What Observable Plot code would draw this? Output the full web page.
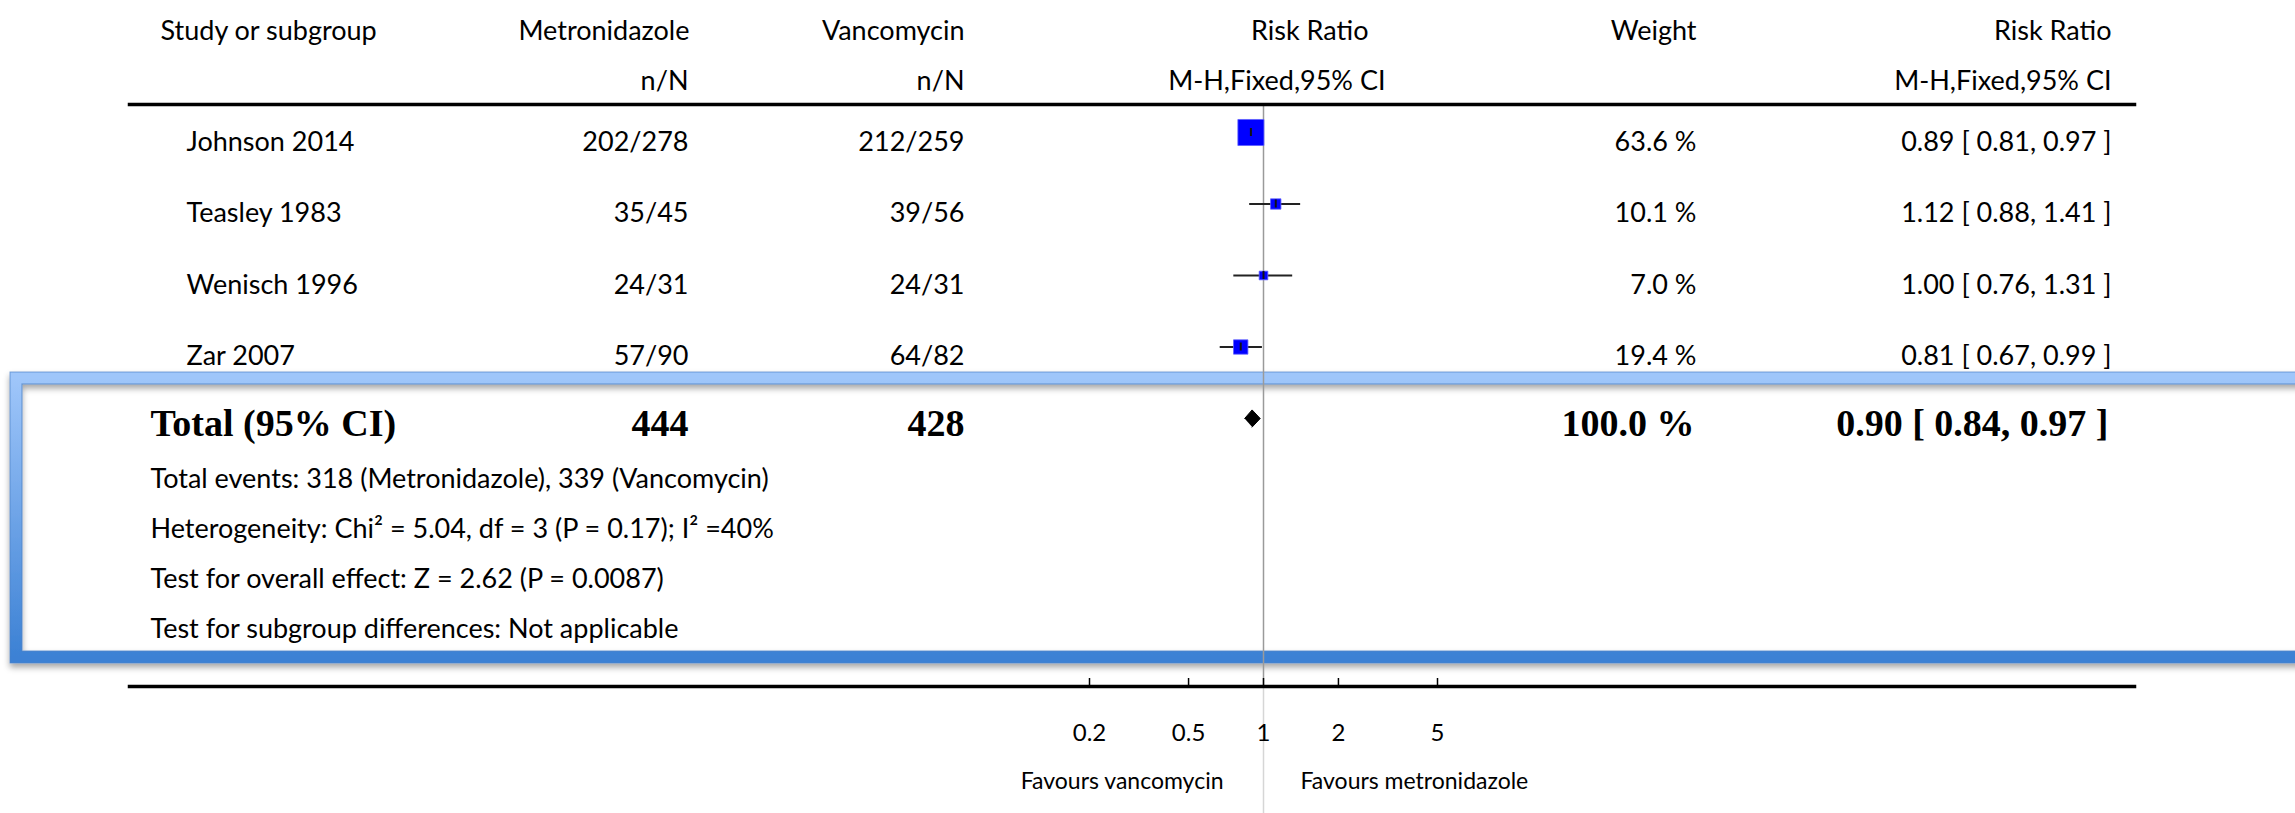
<!DOCTYPE html>
<html>
<head>
<meta charset="utf-8">
<script src="https://cdn.jsdelivr.net/npm/d3@7"></script>
<script src="https://cdn.jsdelivr.net/npm/@observablehq/plot@0.6"></script>
<style>
  html, body { margin: 0; padding: 0; background: #fff; }
  #chart svg { display: block; }
</style>
</head>
<body>
<div id="chart"></div>
<script>
// ---------- data ----------
const studies = ["Johnson 2014", "Teasley 1983", "Wenisch 1996", "Zar 2007"];
const metronidazoleEvents = [202, 35, 24, 57];
const metronidazoleTotal = [278, 45, 31, 90];
const vancomycinEvents = [212, 39, 24, 64];
const vancomycinTotal = [259, 56, 31, 82];
const riskRatio = [0.89, 1.12, 1.00, 0.81];
const ciLower = [0.81, 0.88, 0.76, 0.67];
const ciUpper = [0.97, 1.41, 1.31, 0.99];
const weights = [63.6, 10.1, 7.0, 19.4];

const totalLabel = "Total (95% CI)";
const totalMetronidazole = 444;
const totalVancomycin = 428;
const totalRiskRatio = 0.90;
const totalLower = 0.84;
const totalUpper = 0.97;
const totalWeight = 100.0;

const footnotes = [
  "Total events: 318 (Metronidazole), 339 (Vancomycin)",
  "Heterogeneity: Chi² = 5.04, df = 3 (P = 0.17); I² =40%",
  "Test for overall effect: Z = 2.62 (P = 0.0087)",
  "Test for subgroup differences: Not applicable"
];
const headerRow1 = ["Study or subgroup", "Metronidazole", "Vancomycin", "Risk Ratio", "Weight", "Risk Ratio"];
const headerRow2 = ["n/N", "n/N", "M-H,Fixed,95% CI", "M-H,Fixed,95% CI"];
const axisTicks = [0.2, 0.5, 1, 2, 5];
const favoursLeft = "Favours vancomycin";
const favoursRight = "Favours metronidazole";

// ---------- derived table ----------
const rows = studies.map((study, i) => ({
  study,
  row: i,
  metro: `${metronidazoleEvents[i]}/${metronidazoleTotal[i]}`,
  vanco: `${vancomycinEvents[i]}/${vancomycinTotal[i]}`,
  rr: riskRatio[i],
  lo: ciLower[i],
  hi: ciUpper[i],
  w: weights[i],
  wText: `${weights[i].toFixed(1)} %`,
  ciText: `${riskRatio[i].toFixed(2)} [ ${ciLower[i].toFixed(2)}, ${ciUpper[i].toFixed(2)} ]`
}));
const totalRow = studies.length;
const total = [{
  row: totalRow,
  label: totalLabel,
  metro: String(totalMetronidazole),
  vanco: String(totalVancomycin),
  wText: `${totalWeight.toFixed(1)} %`,
  ciText: `${totalRiskRatio.toFixed(2)} [ ${totalLower.toFixed(2)}, ${totalUpper.toFixed(2)} ]`
}];
const dh = 0.12; // half height of the summary diamond, in row units
const diamond = [
  {x: totalLower, y: totalRow},
  {x: totalRiskRatio, y: totalRow - dh},
  {x: totalUpper, y: totalRow},
  {x: totalRiskRatio, y: totalRow + dh}
];

// ---------- layout ----------
const W = 2295, H = 813;
const M = {left: 129, top: 104, right: 161, bottom: 127};
const at = (px) => px - M.left;         // dx from the frame's left edge
const sans = "Lato, 'Open Sans', sans-serif";
const serif = "'Liberation Serif', 'DejaVu Serif', serif";
const FS = 27;

const txt = (data, opts) => Plot.text(data, {
  fontFamily: sans, fontSize: FS, fill: "#000", lineAnchor: "bottom", ...opts
});
const bold = (data, opts) => Plot.text(data, {
  fontFamily: serif, fontSize: 38, fontWeight: "bold", fill: "#000", lineAnchor: "bottom", ...opts
});

// highlight box (annotation)
function highlightBox(index, scales, values, dims) {
  const {marginLeft, marginTop} = dims;
  const g = d3.create("svg:g");
  const defs = g.append("defs");
  const grad = defs.append("linearGradient").attr("id", "boxGrad")
    .attr("x1", 0).attr("y1", 0).attr("x2", 0).attr("y2", 1);
  grad.append("stop").attr("offset", "0%").attr("stop-color", "#9fc6fa");
  grad.append("stop").attr("offset", "100%").attr("stop-color", "#3c81d4");
  const f = defs.append("filter").attr("id", "boxShadow")
    .attr("x", "-5%").attr("y", "-20%").attr("width", "110%").attr("height", "140%");
  f.append("feDropShadow").attr("dx", 0).attr("dy", 4).attr("stdDeviation", 3)
    .attr("flood-color", "#000").attr("flood-opacity", 0.35);
  const x0 = marginLeft - 113, y0 = marginTop + 274, w = 2320, h = 279;
  const box = g.append("g").attr("filter", "url(#boxShadow)");
  box.append("rect").attr("x", x0).attr("y", y0).attr("width", w).attr("height", h)
    .attr("fill", "none").attr("stroke", "url(#boxGrad)").attr("stroke-width", 12);
  box.append("rect").attr("x", x0 - 6).attr("y", y0 - 6).attr("width", w + 12).attr("height", h + 12)
    .attr("fill", "none").attr("stroke", "#4f84c8").attr("stroke-opacity", 0.7).attr("stroke-width", 1);
  box.append("rect").attr("x", x0 + 6).attr("y", y0 + 6).attr("width", w - 12).attr("height", h - 12)
    .attr("fill", "none").attr("stroke", "#4f84c8").attr("stroke-opacity", 0.7).attr("stroke-width", 1.2);
  return g.node();
}

const frameH = H - M.top - M.bottom;

const chart = Plot.plot({
  width: W,
  height: H,
  marginLeft: M.left,
  marginRight: M.right,
  marginTop: M.top,
  marginBottom: M.bottom,
  style: {background: "#fff", fontFamily: sans},
  x: {type: "log", domain: [0.2, 5], range: [1089, 1437], axis: null},
  y: {domain: [0, totalRow], range: [132, 418], axis: null},
  r: {domain: [0, 63.6], range: [0, 14.7]},
  marks: [
    highlightBox,
    // reference line at RR = 1
    Plot.ruleX([1], {stroke: "#9a9a9a", strokeWidth: 1.5}),
    Plot.ruleX([1], {stroke: "#d6d6d6", strokeWidth: 1.5, insetTop: frameH, insetBottom: -M.bottom}),
    // header and axis lines
    Plot.frame({anchor: "top", stroke: "#000", strokeWidth: 3.5}),
    Plot.frame({anchor: "bottom", stroke: "#000", strokeWidth: 3.5}),
    // axis ticks
    Plot.ruleX(axisTicks, {x: d => d, stroke: "#000", strokeWidth: 1.5, insetTop: frameH - 8}),
    txt(axisTicks, {x: d => d, text: d => String(d), frameAnchor: "bottom", dy: 54, fontSize: 24, textAnchor: "middle"}),
    txt([favoursLeft], {x: () => 1, text: d => d, frameAnchor: "bottom", dx: -40, dy: 102, fontSize: 23, textAnchor: "end"}),
    txt([favoursRight], {x: () => 1, text: d => d, frameAnchor: "bottom", dx: 37, dy: 102, fontSize: 23, textAnchor: "start"}),
    // forest plot: confidence intervals, weighted squares, point ticks
    Plot.ruleY(rows, {y: "row", x1: "lo", x2: "hi", stroke: "#222", strokeWidth: 2}),
    Plot.dot(rows, {x: "rr", y: "row", r: "w", symbol: "square", fill: "#0000ff", stroke: "#5f5fff", strokeWidth: 0.8}),
    Plot.ruleX(rows, {x: "rr", y1: "row", y2: "row", insetTop: -4, insetBottom: -4, stroke: "#111", strokeWidth: 2}),
    Plot.line(diamond, {x: "x", y: "y", fill: "#000", stroke: "#000", strokeWidth: 1}),
    // header
    txt([headerRow1[0]], {text: d => d, frameAnchor: "top-left", dx: at(160), dy: -65, textAnchor: "start"}),
    txt([headerRow1[1]], {text: d => d, frameAnchor: "top-left", dx: at(689), dy: -65, textAnchor: "end"}),
    txt([headerRow1[2]], {text: d => d, frameAnchor: "top-left", dx: at(964), dy: -65, textAnchor: "end"}),
    txt([headerRow1[3]], {text: d => d, frameAnchor: "top-left", dx: at(1368), dy: -65, textAnchor: "end"}),
    txt([headerRow1[4]], {text: d => d, frameAnchor: "top-left", dx: at(1696), dy: -65, textAnchor: "end"}),
    txt([headerRow1[5]], {text: d => d, frameAnchor: "top-left", dx: at(2111), dy: -65, textAnchor: "end"}),
    txt([headerRow2[0]], {text: d => d, frameAnchor: "top-left", dx: at(688), dy: -15, textAnchor: "end"}),
    txt([headerRow2[1]], {text: d => d, frameAnchor: "top-left", dx: at(964), dy: -15, textAnchor: "end"}),
    txt([headerRow2[2]], {text: d => d, frameAnchor: "top-left", dx: at(1385), dy: -15, textAnchor: "end"}),
    txt([headerRow2[3]], {text: d => d, frameAnchor: "top-left", dx: at(2111), dy: -15, textAnchor: "end"}),
    // study rows
    txt(rows, {y: "row", text: "study", frameAnchor: "left", dx: at(186), dy: 18, textAnchor: "start"}),
    txt(rows, {y: "row", text: "metro", frameAnchor: "left", dx: at(688), dy: 18, textAnchor: "end"}),
    txt(rows, {y: "row", text: "vanco", frameAnchor: "left", dx: at(964), dy: 18, textAnchor: "end"}),
    txt(rows, {y: "row", text: "wText", frameAnchor: "left", dx: at(1696), dy: 18, textAnchor: "end"}),
    txt(rows, {y: "row", text: "ciText", frameAnchor: "left", dx: at(2111), dy: 18, textAnchor: "end"}),
    // total row
    bold(total, {y: "row", text: "label", frameAnchor: "left", dx: at(150), dy: 17, textAnchor: "start"}),
    bold(total, {y: "row", text: "metro", frameAnchor: "left", dx: at(688), dy: 17, textAnchor: "end"}),
    bold(total, {y: "row", text: "vanco", frameAnchor: "left", dx: at(964), dy: 17, textAnchor: "end"}),
    bold(total, {y: "row", text: "wText", frameAnchor: "left", dx: at(1694), dy: 17, textAnchor: "end"}),
    bold(total, {y: "row", text: "ciText", frameAnchor: "left", dx: at(2108), dy: 17, textAnchor: "end"}),
    // footnotes under the total row
    ...footnotes.map((note, i) =>
      txt([note], {y: () => totalRow, text: d => d, frameAnchor: "left", dx: at(150), dy: 69 + 50 * i, textAnchor: "start"})
    )
  ]
});

document.getElementById("chart").appendChild(chart);
</script>
</body>
</html>
